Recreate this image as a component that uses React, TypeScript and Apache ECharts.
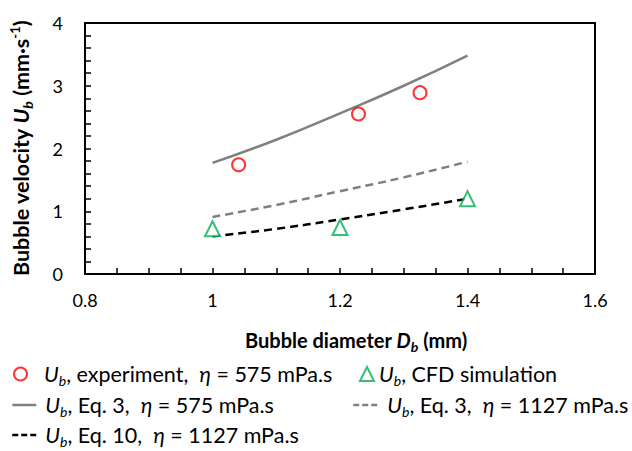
import React, { useEffect, useRef } from "react";
import * as echarts from "echarts";

const expDiameter = [1.041, 1.229, 1.3255];
const expVelocity = [1.74, 2.55, 2.89];
const cfdDiameter = [1.0, 1.2, 1.4];
const cfdVelocity = [0.72, 0.74, 1.2];
const modelDiameter = [1.0, 1.1, 1.2, 1.3, 1.4];
const eq3Visc575 = [1.77, 2.14, 2.56, 3.0, 3.48];
const eq3Visc1127 = [0.91, 1.1, 1.32, 1.54, 1.79];
const eq10Visc1127 = [0.6, 0.72, 0.87, 1.03, 1.2];

const S_EXP = "Ub, experiment, η = 575 mPa.s";
const S_CFD = "Ub, CFD simulation";
const S_EQ3A = "Ub, Eq. 3, η = 575 mPa.s";
const S_EQ3B = "Ub, Eq. 3, η = 1127 mPa.s";
const S_EQ10 = "Ub, Eq. 10, η = 1127 mPa.s";

const legendRich: Record<string, string> = {
  [S_EXP]: "{i|U}{s|b}{t|, experiment,  }{i|η}{t| = 575 mPa.s}",
  [S_CFD]: "{i|U}{s|b}{t|, CFD simulation}",
  [S_EQ3A]: "{i|U}{s|b}{t|, Eq. 3,  }{i|η}{t| = 575 mPa.s}",
  [S_EQ3B]: "{i|U}{s|b}{t|, Eq. 3,  }{i|η}{t| = 1127 mPa.s}",
  [S_EQ10]: "{i|U}{s|b}{t|, Eq. 10,  }{i|η}{t| = 1127 mPa.s}",
};

const FONT = "Lato, 'Open Sans', sans-serif";
const LF = 21.5;

const zip = (xs: number[], ys: number[]) => xs.map((x, i) => [x, ys[i]]);

export default function App() {
  const ref = useRef<HTMLDivElement>(null);
  useEffect(() => {
    document.body.style.margin = "0";
    const chart = echarts.init(ref.current!, undefined, { renderer: "svg" });
    const rich = {
      i: { fontFamily: FONT, fontSize: LF, fontStyle: "italic", color: "#000", lineHeight: 26, verticalAlign: "middle" },
      s: { fontFamily: FONT, fontSize: 14, fontStyle: "italic", color: "#000", lineHeight: 14, verticalAlign: "bottom" },
      t: { fontFamily: FONT, fontSize: LF, color: "#000", lineHeight: 26, verticalAlign: "middle" },
    };
    const mkLegend = (
      name: string,
      left: number,
      top: number,
      w: number,
      h: number,
      padLeft: number,
      extra: Record<string, unknown> = {}
    ) => ({
      show: true,
      data: [name],
      left,
      top,
      orient: "horizontal",
      itemWidth: w,
      itemHeight: h,
      padding: 0,
      formatter: (n: string) => legendRich[n],
      textStyle: { fontFamily: FONT, fontSize: LF, color: "#000", rich, padding: [0, 0, 0, padLeft] },
      ...extra,
    });
    const lineLegendExtra = (color: string, dashed: boolean) => ({
      itemStyle: { opacity: 0 },
      lineStyle: { color, width: 2.5, type: dashed ? [6, 3] : "solid" },
    });
    const titleRich = (fs: number) => ({
      b: { fontFamily: FONT, fontSize: fs, fontWeight: "bold", color: "#000", lineHeight: 26, verticalAlign: "middle" },
      bi: { fontFamily: FONT, fontSize: fs, fontWeight: "bold", fontStyle: "italic", color: "#000", lineHeight: 26, verticalAlign: "middle" },
      sub: { fontFamily: FONT, fontSize: 14, fontWeight: "bold", fontStyle: "italic", color: "#000", lineHeight: 14, verticalAlign: "bottom" },
      sup: { fontFamily: FONT, fontSize: 13, fontWeight: "bold", color: "#000", lineHeight: 13, verticalAlign: "top" },
    });
    const boxLine = { show: true, onZero: false, lineStyle: { color: "#000", width: 2 } };
    const tick = { show: true, inside: true, length: 6, lineStyle: { color: "#000", width: 1.5 } };
    chart.setOption({
      animation: false,
      backgroundColor: "#fff",
      grid: { left: 85, right: 37, top: 23, bottom: 177 },
      xAxis: [
        {
          type: "value",
          min: 0.8,
          max: 1.6,
          interval: 0.2,
          name: "{b|Bubble diameter }{bi|D}{sub|b}{b| (mm)}",
          nameLocation: "middle",
          nameGap: 53,
          nameTextStyle: { rich: titleRich(20), padding: [0, 0, 0, 32] },
          axisLine: boxLine,
          axisTick: tick,
          minorTick: { show: true, splitNumber: 4, length: 6, lineStyle: { color: "#000", width: 1.5 } },
          splitLine: { show: false },
          axisLabel: { fontFamily: FONT, fontSize: 18, color: "#000", margin: 17, formatter: (v: number) => String(Math.round(v * 10) / 10) },
          z: 10,
        },
        {
          type: "value",
          position: "top",
          min: 0.8,
          max: 1.6,
          axisLine: boxLine,
          axisTick: { show: false },
          axisLabel: { show: false },
          splitLine: { show: false },
        },
      ],
      yAxis: [
        {
          type: "value",
          min: 0,
          max: 4,
          interval: 1,
          name: "{b|Bubble velocity }{bi|U}{sub|b}{b| (mm·s}{sup|-1}{b|)}",
          nameLocation: "middle",
          nameGap: 51,
          nameTextStyle: { rich: titleRich(21.5) },
          axisLine: boxLine,
          axisTick: tick,
          minorTick: { show: true, splitNumber: 5, length: 6, lineStyle: { color: "#000", width: 1.5 } },
          splitLine: { show: false },
          axisLabel: { fontFamily: FONT, fontSize: 18, color: "#000", margin: 22 },
          z: 10,
        },
        {
          type: "value",
          position: "right",
          min: 0,
          max: 4,
          axisLine: boxLine,
          axisTick: { show: false },
          axisLabel: { show: false },
          splitLine: { show: false },
        },
      ],
      legend: [
        mkLegend(S_EXP, 13, 363, 13, 13, 12),
        mkLegend(S_CFD, 359, 363, 14, 14, 0),
        mkLegend(S_EQ3A, 11, 394, 24, 12, 4, lineLegendExtra("#808080", false)),
        mkLegend(S_EQ3B, 352, 394, 25, 12, 4, lineLegendExtra("#808080", true)),
        mkLegend(S_EQ10, 11, 424, 24, 12, 4, lineLegendExtra("#000", true)),
      ],
      series: [
        {
          name: S_EQ3A,
          type: "line",
          data: zip(modelDiameter, eq3Visc575),
          smooth: true,
          symbol: "none",
          lineStyle: { color: "#808080", width: 2.5 },
          itemStyle: { color: "#808080" },
        },
        {
          name: S_EQ3B,
          type: "line",
          data: zip(modelDiameter, eq3Visc1127),
          smooth: true,
          symbol: "none",
          lineStyle: { color: "#808080", width: 2.5, type: [8, 5] },
          itemStyle: { color: "#808080" },
        },
        {
          name: S_EQ10,
          type: "line",
          data: zip(modelDiameter, eq10Visc1127),
          smooth: true,
          symbol: "none",
          lineStyle: { color: "#000", width: 2.5, type: [8, 5] },
          itemStyle: { color: "#000" },
        },
        {
          name: S_EXP,
          type: "scatter",
          data: zip(expDiameter, expVelocity),
          symbol: "emptyCircle",
          symbolSize: 13,
          itemStyle: { color: "#FF0000", borderWidth: 2.5 },
          z: 5,
        },
        {
          name: S_CFD,
          type: "scatter",
          data: zip(cfdDiameter, cfdVelocity),
          symbol: "emptyTriangle",
          symbolSize: 15,
          itemStyle: { color: "#00B050", borderWidth: 2.8 },
          z: 5,
        },
      ],
    });
    return () => chart.dispose();
  }, []);
  return <div ref={ref} style={{ width: 632, height: 451 }} />;
}
